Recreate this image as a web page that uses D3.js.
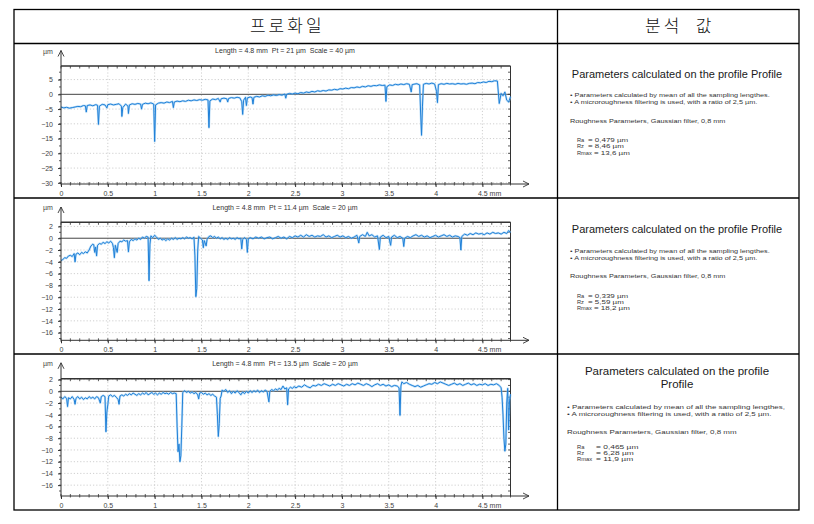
<!DOCTYPE html>
<html><head><meta charset="utf-8">
<script src="https://cdn.jsdelivr.net/npm/d3@7"></script>
<style>body{margin:0;background:#fff}svg{display:block}</style>
</head><body>
<svg id="c" width="814" height="524"></svg>
<script>
// ---------- data (mm, µm) ----------
const profile1 = [[0,-4.3],[0.03,-4.6],[0.06,-4.4],[0.09,-4.7],[0.12,-4.5],[0.15,-4.3],[0.18,-4.1],[0.21,-4.2],[0.24,-3.8],[0.26,-3.9],[0.27,-6.0],[0.28,-3.8],[0.31,-3.6],[0.34,-3.9],[0.37,-3.5],[0.39,-3.7],[0.40,-10.2],[0.41,-4.0],[0.44,-3.4],[0.47,-3.6],[0.49,-4.6],[0.50,-3.5],[0.53,-3.3],[0.56,-3.6],[0.59,-3.4],[0.62,-3.2],[0.645,-4.0],[0.65,-7.5],[0.66,-4.5],[0.69,-3.3],[0.715,-4.0],[0.72,-6.5],[0.73,-3.6],[0.76,-3.2],[0.79,-3.4],[0.82,-3.1],[0.85,-3.3],[0.86,-5.0],[0.87,-3.4],[0.9,-3.0],[0.93,-3.2],[0.96,-2.9],[0.99,-3.3],[1.0,-16.0],[1.01,-3.6],[1.04,-3.0],[1.07,-2.8],[1.10,-3.0],[1.13,-2.6],[1.16,-2.8],[1.19,-2.4],[1.2,-4.5],[1.21,-2.6],[1.24,-2.3],[1.27,-2.5],[1.30,-2.2],[1.33,-2.4],[1.36,-2.0],[1.39,-2.2],[1.42,-1.9],[1.45,-2.1],[1.48,-1.8],[1.51,-2.0],[1.54,-1.7],[1.57,-1.9],[1.58,-11.3],[1.59,-2.2],[1.62,-1.6],[1.65,-1.8],[1.68,-1.4],[1.70,-2.6],[1.71,-1.5],[1.74,-1.3],[1.77,-1.5],[1.78,-2.6],[1.79,-1.4],[1.82,-1.1],[1.85,-1.3],[1.88,-1.0],[1.91,-1.2],[1.93,-2.5],[1.94,-6.8],[1.95,-2.0],[1.97,-1.0],[1.98,-3.8],[1.99,-1.2],[2.02,-0.9],[2.04,-1.1],[2.05,-3.3],[2.06,-1.0],[2.09,-0.7],[2.12,-0.9],[2.15,-0.5],[2.18,-0.7],[2.21,-0.3],[2.24,-0.5],[2.27,-0.2],[2.30,-0.4],[2.33,-0.1],[2.36,-0.3],[2.39,0.1],[2.40,-1.3],[2.41,0.0],[2.44,0.3],[2.47,0.1],[2.50,0.4],[2.53,0.2],[2.56,0.6],[2.59,0.4],[2.62,0.8],[2.65,0.6],[2.68,1.0],[2.71,0.8],[2.74,1.2],[2.77,1.0],[2.80,1.3],[2.83,1.1],[2.86,1.5],[2.89,1.4],[2.92,1.7],[2.95,1.5],[2.98,1.9],[3.01,1.8],[3.04,2.1],[3.07,1.9],[3.10,2.3],[3.13,2.2],[3.16,2.5],[3.19,2.3],[3.22,2.7],[3.25,2.5],[3.28,2.9],[3.31,2.7],[3.34,3.0],[3.37,2.9],[3.40,3.2],[3.43,3.0],[3.46,3.1],[3.47,-2.4],[3.48,2.6],[3.51,3.2],[3.54,3.0],[3.57,3.4],[3.60,3.2],[3.63,3.5],[3.66,3.3],[3.69,3.6],[3.72,3.4],[3.74,0.8],[3.75,3.3],[3.78,3.5],[3.80,3.6],[3.83,3.2],[3.84,-6.0],[3.85,-13.9],[3.86,-4.0],[3.87,3.4],[3.90,3.7],[3.93,3.5],[3.96,3.8],[3.99,3.5],[4.01,1.0],[4.02,-2.8],[4.03,3.3],[4.06,3.6],[4.09,3.4],[4.12,3.7],[4.15,3.5],[4.18,3.6],[4.21,3.4],[4.24,3.7],[4.27,3.5],[4.30,3.6],[4.33,3.4],[4.36,3.7],[4.39,3.8],[4.42,3.6],[4.45,4.0],[4.48,3.9],[4.51,4.2],[4.54,4.0],[4.57,4.4],[4.60,4.3],[4.63,4.6],[4.66,4.5],[4.68,-3.1],[4.70,0.3],[4.72,-0.5],[4.74,0.8],[4.76,-2.0],[4.78,-2.6],[4.80,-0.8]];

const profile2 = [[0,-3.8],[0.02,-3.6],[0.04,-3.3],[0.06,-3.4],[0.08,-3.0],[0.10,-2.9],[0.12,-3.1],[0.14,-2.6],[0.15,-4.0],[0.16,-2.7],[0.18,-2.5],[0.20,-2.8],[0.22,-2.4],[0.24,-2.6],[0.26,-2.3],[0.28,-2.5],[0.30,-2.0],[0.32,-1.3],[0.34,-1.0],[0.35,-1.1],[0.36,-2.4],[0.37,-1.5],[0.38,-3.0],[0.39,-1.2],[0.41,-0.9],[0.43,-1.0],[0.45,-0.7],[0.47,-0.9],[0.49,-0.6],[0.51,-0.8],[0.53,-0.5],[0.55,-0.9],[0.56,-1.6],[0.57,-3.3],[0.58,-1.2],[0.60,-2.4],[0.61,-0.9],[0.63,-0.5],[0.65,-0.6],[0.67,-0.3],[0.69,-0.5],[0.71,-0.4],[0.72,-2.3],[0.73,-0.6],[0.75,-0.2],[0.77,-0.4],[0.79,-0.1],[0.81,-0.3],[0.83,0.0],[0.85,-0.2],[0.87,0.2],[0.89,0.0],[0.91,0.3],[0.93,0.2],[0.94,-7.2],[0.95,-1.0],[0.96,0.4],[0.98,0.1],[1.00,0.5],[1.02,0.2],[1.04,-0.2],[1.06,0.0],[1.08,-0.3],[1.10,-0.1],[1.12,-0.4],[1.14,-0.1],[1.16,-0.3],[1.18,0.0],[1.20,-0.2],[1.22,0.1],[1.24,-0.2],[1.26,0.0],[1.28,-0.1],[1.30,0.1],[1.32,-0.1],[1.34,0.2],[1.36,0.0],[1.38,0.1],[1.40,-0.1],[1.42,0.2],[1.43,-3.0],[1.44,-9.9],[1.45,-8.5],[1.46,-2.0],[1.47,0.3],[1.49,0.0],[1.51,-0.3],[1.52,-1.6],[1.53,-0.4],[1.55,-1.3],[1.56,-0.2],[1.58,0.3],[1.60,0.4],[1.62,0.1],[1.64,0.3],[1.66,0.0],[1.68,0.2],[1.70,-0.1],[1.72,0.1],[1.74,-0.2],[1.76,0.0],[1.78,-0.2],[1.80,0.1],[1.82,-0.1],[1.84,0.0],[1.86,-0.2],[1.88,0.1],[1.90,-0.1],[1.92,0.0],[1.93,-1.8],[1.94,-0.2],[1.96,0.1],[1.98,-0.2],[1.99,-2.4],[2.00,-0.1],[2.02,0.1],[2.05,-0.1],[2.08,0.2],[2.11,0.0],[2.14,0.2],[2.17,-0.1],[2.20,0.1],[2.23,0.2],[2.26,-0.1],[2.29,0.1],[2.32,0.3],[2.35,0.0],[2.38,0.2],[2.41,-0.1],[2.44,0.3],[2.47,0.1],[2.50,0.4],[2.53,0.2],[2.56,0.5],[2.59,0.2],[2.62,0.6],[2.65,0.3],[2.68,0.5],[2.71,0.2],[2.74,0.4],[2.77,0.3],[2.80,0.6],[2.83,0.2],[2.86,0.4],[2.89,0.1],[2.92,0.3],[2.95,0.5],[2.98,0.2],[3.01,0.4],[3.04,0.1],[3.07,0.3],[3.10,0.0],[3.13,0.2],[3.16,0.5],[3.18,-0.8],[3.19,0.3],[3.22,0.6],[3.25,0.3],[3.27,1.0],[3.29,0.4],[3.32,0.6],[3.35,0.2],[3.38,0.4],[3.40,-1.9],[3.41,0.2],[3.44,0.5],[3.47,0.1],[3.50,0.3],[3.52,-1.2],[3.53,0.2],[3.56,0.5],[3.59,0.1],[3.62,0.3],[3.65,0.0],[3.66,-1.4],[3.67,0.0],[3.70,0.3],[3.73,0.1],[3.76,0.4],[3.79,0.6],[3.82,0.3],[3.85,0.5],[3.88,0.2],[3.91,0.4],[3.94,0.1],[3.97,0.3],[4.00,0.5],[4.03,0.2],[4.06,0.4],[4.09,0.6],[4.12,0.3],[4.15,0.5],[4.18,0.2],[4.21,0.4],[4.24,0.3],[4.26,0.1],[4.27,-2.0],[4.28,0.3],[4.31,0.7],[4.34,0.5],[4.37,0.8],[4.40,0.6],[4.43,0.9],[4.46,0.7],[4.49,0.8],[4.52,0.6],[4.55,0.9],[4.58,0.7],[4.61,1.0],[4.64,0.8],[4.67,0.9],[4.70,0.7],[4.73,1.0],[4.76,0.8],[4.78,1.3],[4.80,1.0]];

const profile3 = [[0,-1.0],[0.02,-1.3],[0.04,-0.9],[0.06,-1.2],[0.07,-2.6],[0.08,-1.1],[0.10,-1.3],[0.12,-0.9],[0.14,-1.4],[0.15,-2.2],[0.16,-1.2],[0.18,-0.9],[0.20,-1.3],[0.22,-1.0],[0.24,-1.4],[0.26,-1.1],[0.28,-1.3],[0.30,-0.9],[0.32,-1.2],[0.34,-1.0],[0.36,-1.3],[0.38,-0.9],[0.40,-1.1],[0.42,-2.0],[0.43,-0.9],[0.45,-0.7],[0.47,-0.9],[0.48,-6.9],[0.49,-3.5],[0.50,-2.3],[0.51,-0.8],[0.53,-0.6],[0.55,-0.9],[0.57,-0.7],[0.59,-1.0],[0.61,-1.4],[0.62,-2.2],[0.63,-0.8],[0.65,-0.6],[0.67,-0.8],[0.69,-0.5],[0.71,-0.7],[0.73,-0.4],[0.75,-0.6],[0.77,-0.3],[0.79,-0.5],[0.81,-0.7],[0.83,-0.4],[0.85,-0.6],[0.87,-0.3],[0.89,-0.5],[0.91,-0.2],[0.93,-0.6],[0.95,-0.4],[0.97,-0.2],[0.99,-0.5],[1.01,-0.3],[1.03,-0.6],[1.05,-0.3],[1.07,-0.5],[1.09,-0.2],[1.11,-0.4],[1.13,-0.3],[1.15,-0.5],[1.17,-0.2],[1.19,-0.4],[1.21,-0.3],[1.23,-0.4],[1.24,-6.0],[1.25,-10.3],[1.26,-9.0],[1.27,-12.0],[1.28,-11.0],[1.29,-6.0],[1.30,-0.2],[1.32,0.1],[1.34,-0.2],[1.36,0.0],[1.38,-0.3],[1.40,-0.1],[1.42,-0.4],[1.44,-0.2],[1.46,-0.6],[1.47,-1.3],[1.48,-0.3],[1.50,-0.2],[1.52,-0.5],[1.54,-0.3],[1.56,-0.6],[1.58,-0.4],[1.60,-0.7],[1.62,-0.5],[1.64,-0.8],[1.66,-1.0],[1.67,-4.0],[1.68,-7.7],[1.69,-5.5],[1.70,-1.2],[1.71,-0.8],[1.72,0.2],[1.74,0.0],[1.76,0.3],[1.78,-0.2],[1.80,0.1],[1.82,-0.4],[1.84,0.0],[1.86,-0.3],[1.88,0.1],[1.90,-0.2],[1.92,-0.6],[1.94,-0.1],[1.96,-0.4],[1.98,0.0],[2.00,-0.3],[2.02,0.1],[2.04,-0.2],[2.06,0.1],[2.08,-0.1],[2.10,0.2],[2.12,-0.2],[2.14,0.1],[2.16,-0.1],[2.18,0.2],[2.20,0.0],[2.22,-1.8],[2.23,0.0],[2.25,0.3],[2.27,0.1],[2.29,0.4],[2.31,0.2],[2.33,0.5],[2.35,0.3],[2.37,0.9],[2.39,0.4],[2.41,0.6],[2.42,-2.3],[2.43,0.4],[2.45,0.7],[2.47,0.5],[2.49,0.8],[2.51,0.6],[2.54,0.9],[2.57,0.7],[2.60,1.1],[2.63,0.8],[2.66,0.6],[2.69,1.0],[2.72,0.9],[2.75,1.2],[2.78,1.0],[2.81,1.3],[2.84,1.1],[2.87,0.9],[2.90,1.2],[2.93,1.0],[2.96,1.3],[2.99,1.1],[3.02,0.9],[3.05,1.2],[3.08,1.0],[3.11,1.3],[3.14,1.1],[3.17,1.4],[3.20,1.2],[3.23,1.0],[3.26,1.3],[3.29,1.1],[3.32,0.8],[3.35,1.1],[3.38,1.3],[3.41,1.0],[3.44,1.2],[3.47,0.9],[3.50,1.1],[3.53,0.8],[3.56,1.0],[3.59,0.9],[3.61,0.6],[3.62,-4.1],[3.63,0.9],[3.64,1.6],[3.66,1.3],[3.69,1.5],[3.72,1.2],[3.75,1.0],[3.78,0.8],[3.81,1.0],[3.84,0.7],[3.87,0.9],[3.90,1.1],[3.93,1.3],[3.96,1.2],[3.99,1.5],[4.02,1.3],[4.05,1.6],[4.08,1.4],[4.11,1.2],[4.14,1.0],[4.17,1.2],[4.20,1.4],[4.23,1.1],[4.26,1.3],[4.29,1.0],[4.32,1.2],[4.35,1.4],[4.38,1.1],[4.41,1.3],[4.44,1.0],[4.47,1.2],[4.50,1.1],[4.53,1.3],[4.56,1.0],[4.59,1.2],[4.62,1.1],[4.65,1.3],[4.68,1.0],[4.70,0.6],[4.71,-1.0],[4.72,-4.0],[4.73,-8.0],[4.74,-10.2],[4.75,-9.0],[4.76,-2.0],[4.77,0.5],[4.78,-6.6],[4.79,-1.5],[4.80,-0.5]];

const profiles = [profile1, profile2, profile3];
const profileHeaders = [
  "Length = 4.8 mm  Pt = 21 µm  Scale = 40 µm",
  "Length = 4.8 mm  Pt = 11.4 µm  Scale = 20 µm",
  "Length = 4.8 mm  Pt = 13.5 µm  Scale = 20 µm"
];
const yDomains = [[-30.4, 9.6], [-17.3, 2.7], [-17.85, 2.15]];
const yTickValues = [
  [5, 0, -5, -10, -15, -20, -25, -30],
  [2, 0, -2, -4, -6, -8, -10, -12, -14, -16],
  [2, 0, -2, -4, -6, -8, -10, -12, -14, -16]
];
const yMinorStep = [2.5, 1, 1];
const xLength = 4.8;
const xTickValues = [0, 0.5, 1, 1.5, 2, 2.5, 3, 3.5, 4, 4.5];
const xTickLabels = ["0", "0.5", "1", "1.5", "2", "2.5", "3", "3.5", "4", "4.5"];
const columnHeaders = ["프로화일", "분석  값"];
const paramTitles = [["Parameters calculated on the profile Profile"], ["Parameters calculated on the profile Profile"], ["Parameters calculated on the profile", "Profile"]];
const bulletLines = [
  ["• Parameters calculated by mean of all the sampling lengthes.", "• A microroughness filtering is used, with a ratio of 2,5 µm."],
  ["• Parameters calculated by mean of all the sampling lengthes.", "• A microroughness filtering is used, with a ratio of 2,5 µm."],
  ["• Parameters calculated by mean of all the sampling lengthes,", "• A microroughness filtering is used, with a ratio of 2,5 µm."]
];
const roughnessLine = "Roughness Parameters, Gaussian filter, 0,8 mm";
const paramLabels = ["Ra", "Rz", "Rmax"];
const paramValues = [
  ["= 0,479 µm", "= 8,46 µm", "= 13,6 µm"],
  ["= 0,339 µm", "= 5,59 µm", "= 18,2 µm"],
  ["= 0,465 µm", "= 6,28 µm", "= 11,9 µm"]
];

// ---------- layout ----------
const FONT = "'Liberation Sans', Arial, sans-serif";
const svg = d3.select("#c");
svg.append("rect").attr("width", 814).attr("height", 524).attr("fill", "#fff");

const T = {left: 14, right: 799, top: 9.5, bottom: 510, split: 557.5, rows: [43.5, 198, 354]};
const chartLayout = [
  {head: 51, top: 66, bottom: 184},
  {head: 207.5, top: 222.3, bottom: 340.3},
  {head: 363.3, top: 378.7, bottom: 496}
];
const textLayout = [
  {title: [77.5], tSize: 11, bx: 570, b: [97.3, 104.3], bSize: 6.1, bsx: 1.2, rough: 122.5, p: [141.6, 148.1, 154.6], pSize: 5.7, psx: 1.4, vx: [588, 588, 594]},
  {title: [233.3], tSize: 11, bx: 570, b: [253.3, 260], bSize: 6.1, bsx: 1.2, rough: 277.5, p: [297.6, 303.9, 310.3], pSize: 5.7, psx: 1.4, vx: [588, 588, 594]},
  {title: [374.8, 387.8], tSize: 11.5, bx: 567, b: [409, 415.5], bSize: 6.0, bsx: 1.33, rough: 433.6, p: [448.6, 455, 461.4], pSize: 5.8, psx: 1.45, vx: [596, 596, 596]}
];

function wideText(g, x, y, size, sx, str) {
  return g.append("text").attr("transform", `translate(${x},${y}) scale(${sx},1)`)
    .attr("font-size", size).attr("fill", "#333").style("white-space", "pre").text(str);
}

// table
const tbl = svg.append("g").attr("stroke", "#000").attr("stroke-width", 1.3).attr("fill", "none");
tbl.append("rect").attr("x", T.left).attr("y", T.top).attr("width", T.right - T.left).attr("height", T.bottom - T.top);
T.rows.forEach(r => tbl.append("line").attr("x1", T.left).attr("x2", T.right).attr("y1", r).attr("y2", r));
tbl.append("line").attr("x1", T.split).attr("x2", T.split).attr("y1", T.top).attr("y2", T.bottom);

svg.append("text").attr("x", (T.left + T.split) / 2 + 1.5).attr("y", 32).attr("text-anchor", "middle")
  .attr("font-family", "'Noto Sans CJK KR', sans-serif").attr("font-size", 17).attr("letter-spacing", 3)
  .attr("font-weight", 300).attr("fill", "#111").text(columnHeaders[0]);
svg.append("text").attr("x", (T.split + T.right) / 2 + 1.5).attr("y", 32).attr("text-anchor", "middle")
  .attr("font-family", "'Noto Sans CJK KR', sans-serif").attr("font-size", 17).attr("letter-spacing", 3)
  .attr("font-weight", 300).attr("fill", "#111").style("white-space", "pre").text(columnHeaders[1]);

const x = d3.scaleLinear().domain([0, xLength]).range([61, 510.5]);
const minorX = d3.range(0, 48.5, 1).map(v => v / 10);

profiles.forEach((data, i) => {
  const L = chartLayout[i];
  const y = d3.scaleLinear().domain(yDomains[i]).range([L.bottom, L.top]);
  const g = svg.append("g");

  // header text
  g.append("text").attr("x", 285).attr("y", L.head + 2.3).attr("text-anchor", "middle")
    .attr("font-family", FONT).attr("font-size", 7).attr("fill", "#333").style("white-space", "pre").text(profileHeaders[i]);
  g.append("text").attr("x", 43).attr("y", L.head + 2.5).attr("font-family", FONT).attr("font-size", 7)
    .attr("fill", "#444").text("µm");

  // grid
  const grid = g.append("g").attr("stroke", "#c4c4c4").attr("stroke-width", 0.8).attr("stroke-dasharray", "1.2,2");
  yTickValues[i].filter(v => v !== 0).forEach(v => grid.append("line")
    .attr("x1", x(0)).attr("x2", x(xLength)).attr("y1", y(v)).attr("y2", y(v)));
  xTickValues.filter(v => v !== 0).forEach(v => grid.append("line")
    .attr("x1", x(v)).attr("x2", x(v)).attr("y1", L.top).attr("y2", L.bottom));

  // zero line
  g.append("line").attr("x1", x(0)).attr("x2", x(xLength)).attr("y1", y(0)).attr("y2", y(0))
    .attr("stroke", "#444").attr("stroke-width", 1);

  // frame: top and right
  const fr = g.append("g").attr("stroke", "#333").attr("fill", "none");
  fr.append("line").attr("x1", x(0)).attr("x2", x(xLength)).attr("y1", L.top).attr("y2", L.top).attr("stroke-width", 1.5);
  fr.append("line").attr("x1", x(xLength)).attr("x2", x(xLength)).attr("y1", L.top).attr("y2", L.bottom).attr("stroke-width", 1);
  minorX.forEach(v => fr.append("line").attr("x1", x(v)).attr("x2", x(v)).attr("y1", L.top).attr("y2", L.top + 2.5).attr("stroke-width", 0.8));
  const yMinor = d3.range(Math.ceil(yDomains[i][0] / yMinorStep[i]), Math.floor(yDomains[i][1] / yMinorStep[i]) + 1).map(k => k * yMinorStep[i]);
  yMinor.forEach(v => fr.append("line").attr("x1", x(xLength) - 2.5).attr("x2", x(xLength)).attr("y1", y(v)).attr("y2", y(v)).attr("stroke-width", 0.8));

  // profile line
  const line = d3.line().x(d => x(d[0])).y(d => y(d[1]));
  g.append("path").datum(data).attr("d", line).attr("fill", "none").attr("stroke", "#8cc6f2")
    .attr("stroke-width", 2.2).attr("stroke-opacity", 0.55).attr("stroke-linejoin", "round");
  g.append("path").datum(data).attr("d", line).attr("fill", "none").attr("stroke", "#1f80d8")
    .attr("stroke-width", 1).attr("stroke-linejoin", "round");

  // y axis
  const ya = g.append("g").attr("transform", `translate(${x(0)},0)`)
    .call(d3.axisLeft(y).tickValues(yTickValues[i]).tickSize(3).tickPadding(5).tickFormat(d3.format("d")));
  ya.select(".domain").remove();
  ya.selectAll("text").attr("font-family", FONT).attr("font-size", 7).attr("fill", "#444");
  ya.selectAll("line").attr("stroke", "#333");
  yMinor.forEach(v => g.append("line").attr("x1", x(0) - 2).attr("x2", x(0)).attr("y1", y(v)).attr("y2", y(v)).attr("stroke", "#333").attr("stroke-width", 0.8));
  const tipY = L.head - 0.5;
  g.append("line").attr("x1", x(0)).attr("x2", x(0)).attr("y1", L.bottom).attr("y2", tipY).attr("stroke", "#333").attr("stroke-width", 1);
  g.append("path").attr("d", `M${x(0) - 3},${tipY + 6}L${x(0)},${tipY}L${x(0) + 3},${tipY + 6}`)
    .attr("fill", "none").attr("stroke", "#333").attr("stroke-width", 0.9);

  // x axis
  const xa = g.append("g").attr("transform", `translate(0,${L.bottom})`)
    .call(d3.axisBottom(x).tickValues(xTickValues).tickSize(3).tickPadding(4).tickFormat((d, k) => xTickLabels[k]));
  xa.select(".domain").remove();
  xa.selectAll("text").attr("font-family", FONT).attr("font-size", 7).attr("fill", "#444");
  xa.selectAll("line").attr("stroke", "#333");
  const lastLbl = xa.selectAll(".tick text").filter((d, k, n) => k === n.length - 1);
  lastLbl.attr("text-anchor", "start").attr("dx", -5).style("white-space", "pre").text(xTickLabels[xTickLabels.length - 1] + " mm");
  minorX.forEach(v => g.append("line").attr("x1", x(v)).attr("x2", x(v)).attr("y1", L.bottom - 2).attr("y2", L.bottom + 1.5).attr("stroke", "#333").attr("stroke-width", 0.8));
  const axEnd = 529;
  g.append("line").attr("x1", x(0)).attr("x2", axEnd).attr("y1", L.bottom).attr("y2", L.bottom).attr("stroke", "#333").attr("stroke-width", 1);
  g.append("path").attr("d", `M${axEnd - 6},${L.bottom - 3}L${axEnd},${L.bottom}L${axEnd - 6},${L.bottom + 3}`)
    .attr("fill", "none").attr("stroke", "#333").attr("stroke-width", 0.9);

  // right panel text
  const P = textLayout[i];
  const tg = svg.append("g").attr("font-family", FONT).attr("fill", "#1a1a1a");
  paramTitles[i].forEach((t, k) => tg.append("text").attr("x", 677).attr("y", P.title[k]).attr("text-anchor", "middle")
    .attr("font-size", P.tSize).text(t));
  bulletLines[i].forEach((t, k) => wideText(tg, P.bx, P.b[k], P.bSize, P.bsx, t));
  wideText(tg, P.bx, P.rough, P.bSize, P.bsx, roughnessLine);
  paramLabels.forEach((lab, k) => {
    wideText(tg, 577, P.p[k], P.pSize, 1.0, lab);
    wideText(tg, P.vx[k], P.p[k], P.pSize, P.psx, paramValues[i][k]);
  });
});
</script>
</body></html>
